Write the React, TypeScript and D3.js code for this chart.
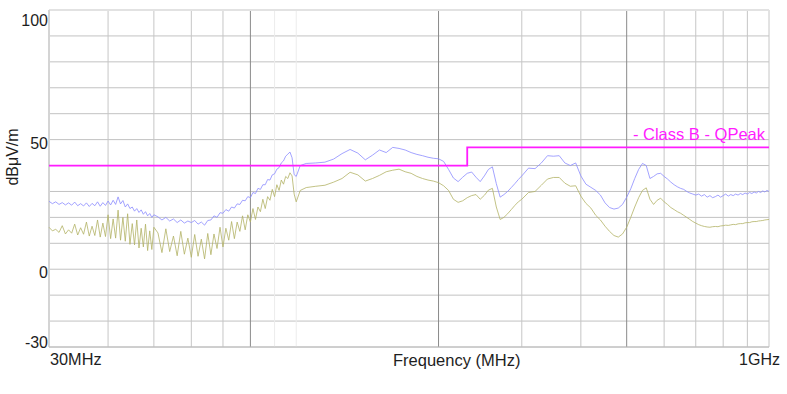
import React from 'react';
import * as d3 from 'd3';

const FREQ_MHZ = [
  30,30.5,31,31.5,32,32.5,33,33.5,34,34.5,35,35.5,36,36.5,37,37.5,38,38.5,39,39.5,40,40.5,41,41.5,42,42.5,43,43.5,44,44.5,45,45.5,46,46.5,47,47.5,48,48.5,49,49.5,50,
  51,52,53,54,55,56,57,58,59,60,61,62,63,64,65,66,67,68,69,70,71,72,73,74,75,76,77,78,79,80,81,82,83,84,85,86,87,88,89,90,91,92,93,94,95,96,97,98,99,100,
  102,105,110,115,120,125,130,135,140,145,150,155,160,165,170,175,180,185,190,195,200,205,210,215,220,225,230,235,240,245,250,255,260,265,270,275,280,285,290,295,300,
  310,320,330,340,350,360,370,380,390,400,410,420,430,440,450,460,470,480,490,500,510,520,530,540,550,560,570,580,590,600,610,620,630,640,650,660,670,680,690,700,
  710,720,730,740,750,760,770,780,790,800,810,820,830,840,850,860,870,880,890,900,910,920,930,940,950,960,970,980,990,1000,
];

const PEAK_DBUV = [
  26.2,25.3,26.0,25.0,25.7,24.8,25.6,24.7,25.9,24.5,25.3,24.4,25.6,24.2,25.4,24.5,26.0,24.3,25.7,24.6,26.3,24.8,26.6,25.0,27.9,25.2,26.5,24.0,25.2,23.4,24.0,22.4,23.4,21.9,22.9,21.2,22.2,20.6,21.5,20.0,21.0,
  20.2,19.0,20.0,18.6,19.4,18.0,19.0,17.8,18.6,18.0,18.8,17.4,18.2,17.0,18.8,19.0,20.6,20.0,21.8,21.6,23.0,22.4,24.0,23.6,25.2,25.0,26.6,26.4,28.0,27.6,29.6,29.2,31.2,30.8,32.6,32.6,34.6,34.4,36.4,36.8,38.6,39.2,41.0,41.8,43.6,44.4,45.2,43.0,36.5,35.8,
  40.0,40.8,41.0,41.3,42.5,44.6,46.2,44.8,42.2,44.0,46.0,45.0,47.0,46.6,46.0,45.0,44.3,43.8,43.2,42.8,42.6,41.6,38.5,35.2,33.8,35.5,37.0,37.5,35.5,33.8,36.0,38.5,39.5,33.0,27.8,28.8,30.0,31.5,33.0,34.6,36.0,
  39.0,38.8,41.0,43.8,43.6,43.8,41.0,40.0,41.0,36.0,32.8,31.6,30.4,28.6,25.6,23.8,23.2,23.6,25.0,27.8,31.0,35.0,38.5,40.8,40.0,35.0,35.8,36.8,37.0,35.8,34.8,33.6,32.6,31.8,31.2,30.8,30.0,29.4,29.0,28.6,
  29.0,28.2,28.8,27.8,28.4,27.6,28.0,28.6,27.8,28.4,29.0,28.2,28.8,28.4,29.0,28.6,29.2,28.8,29.4,29.0,29.6,29.2,29.8,29.4,30.0,29.6,30.2,29.8,30.4,30.0,
];

const QPEAK_DBUV = [
  16.2,14.8,15.4,14.2,16.8,13.6,15.2,13.9,17.4,13.2,16.0,13.5,18.2,12.8,16.6,13.0,19.0,12.4,17.8,12.6,21.0,11.8,19.4,12.0,22.8,11.2,20.0,10.8,21.4,9.6,17.6,9.4,19.0,8.2,15.8,8.6,17.4,7.2,14.8,7.6,16.2,
  14.0,6.4,15.6,6.8,12.8,5.2,14.6,5.8,12.0,4.6,13.4,5.0,11.6,4.0,13.8,5.6,13.6,8.0,16.2,8.6,15.8,11.2,18.4,11.8,18.2,14.6,20.6,15.2,21.0,18.2,23.4,19.2,24.0,22.2,27.0,23.4,28.0,26.6,30.8,28.0,32.6,30.4,34.4,32.8,35.8,35.0,37.2,36.0,29.0,26.0,
  30.4,31.5,32.0,32.4,33.6,35.0,37.4,36.4,34.0,35.0,36.2,37.6,38.2,38.6,37.6,37.0,35.8,35.0,34.4,34.0,33.4,32.2,30.4,27.0,25.8,26.4,27.6,28.4,28.8,27.0,28.5,30.5,31.2,24.0,19.2,20.0,21.4,23.0,24.6,26.0,27.0,
  29.6,30.0,32.4,34.8,35.4,35.4,33.2,32.0,32.2,28.2,25.4,23.6,20.8,19.0,16.6,14.6,13.0,12.4,13.6,16.2,20.0,24.0,27.6,30.4,31.4,27.0,25.0,26.6,27.4,26.0,25.0,23.8,23.0,22.2,21.6,20.8,20.0,19.2,18.4,17.8,
  17.2,16.8,16.5,16.3,16.2,16.4,16.5,16.4,16.7,16.8,17.0,16.9,17.1,17.3,17.2,17.5,17.6,17.6,17.9,18.0,18.0,18.3,18.4,18.4,18.6,18.7,18.8,19.0,19.1,19.2,
];

const LIMIT_FREQ = [30, 230, 230, 1000];
const LIMIT_LEVEL = [40, 40, 47, 47];
const LIMIT_LABEL = '- Class B - QPeak';

const Y_GRID = [100, 90, 80, 70, 60, 50, 40, 30, 20, 10, 0, -10, -20, -30];
const Y_TICKS = [100, 50, 0, -30];
const X_GRID = [40, 50, 60, 70, 80, 90, 100, 200, 300, 400, 500, 600, 700, 800, 900, 1000];
const X_DARK = [80, 200, 500];
const X_FAINT = [90, 100];
const X_MIN_LABEL = '30MHz';
const X_MAX_LABEL = '1GHz';
const X_TITLE = 'Frequency (MHz)';
const Y_TITLE = 'dBμV/m';

const FONT = '"Liberation Sans", Arial, Helvetica, sans-serif';
const INK = '#1e1e1e';

export default function App() {
  const W = 787;
  const H = 394;
  const L = 49, R = 769, T = 10, B = 347;
  const x = d3.scaleLog().domain([30, 1000]).range([L, R]);
  const y = d3.scaleLinear().domain([-30, 100]).range([B, T]);

  const line = d3
    .line<number>()
    .x((_, i) => x(FREQ_MHZ[i]))
    .y((d) => y(d));

  const limitLine = d3
    .line<number>()
    .x((_, i) => x(LIMIT_FREQ[i]))
    .y((d) => y(d));

  const vColor = (f: number) =>
    X_DARK.includes(f) ? '#8a8a8a' : X_FAINT.includes(f) ? '#ececec' : '#c6c6c6';

  const tickBaseline = (v: number, i: number) => {
    if (i === 0) return y(v) + 16;
    if (i === Y_TICKS.length - 1) return y(v) + 1;
    return y(v) + 9;
  };

  return (
    <svg
      width={W}
      height={H}
      viewBox={`0 0 ${W} ${H}`}
      style={{ position: 'absolute', left: 0, top: 0, display: 'block', background: '#fff' }}
      fontFamily={FONT}
    >
      <rect x={0} y={0} width={W} height={H} fill="#fff" />
      {Y_GRID.map((v) => (
        <line key={'h' + v} x1={L} x2={R} y1={y(v)} y2={y(v)} stroke="#c2c2c2" strokeWidth={1} />
      ))}
      {X_GRID.map((f) => (
        <line key={'v' + f} x1={x(f)} x2={x(f)} y1={T} y2={B} stroke={vColor(f)} strokeWidth={1} />
      ))}
      <line x1={L} x2={R} y1={T} y2={T} stroke="#e2e2e2" strokeWidth={2} />
      <line x1={L} x2={L} y1={T} y2={B} stroke="#d4d4d4" strokeWidth={2} />
      <line x1={L} x2={R} y1={B} y2={B} stroke="#bcbcbc" strokeWidth={1} />

      <path d={line(QPEAK_DBUV) || ''} fill="none" stroke="#b2b266" strokeWidth={0.8} />
      <path d={line(PEAK_DBUV) || ''} fill="none" stroke="#8c8cff" strokeWidth={0.8} />
      <path d={limitLine(LIMIT_LEVEL) || ''} fill="none" stroke="#ff1cff" strokeWidth={1.8} />

      <text x={765} y={140} fontSize={16.5} fill="#ff1cff" textAnchor="end">
        {LIMIT_LABEL}
      </text>

      {Y_TICKS.map((v, i) => (
        <text key={'t' + v} x={48} y={tickBaseline(v, i)} fontSize={16} fill={INK} textAnchor="end">
          {v}
        </text>
      ))}
      <text
        x={0}
        y={0}
        fontSize={16}
        fill={INK}
        textAnchor="middle"
        transform={`translate(17.5, 157) rotate(-90)`}
      >
        {Y_TITLE}
      </text>
      <text x={50} y={365} fontSize={16.3} fill={INK} textAnchor="start">
        {X_MIN_LABEL}
      </text>
      <text x={780} y={365} fontSize={16} fill={INK} textAnchor="end">
        {X_MAX_LABEL}
      </text>
      <text x={393} y={366} fontSize={16.5} fill={INK} textAnchor="start">
        {X_TITLE}
      </text>
    </svg>
  );
}
